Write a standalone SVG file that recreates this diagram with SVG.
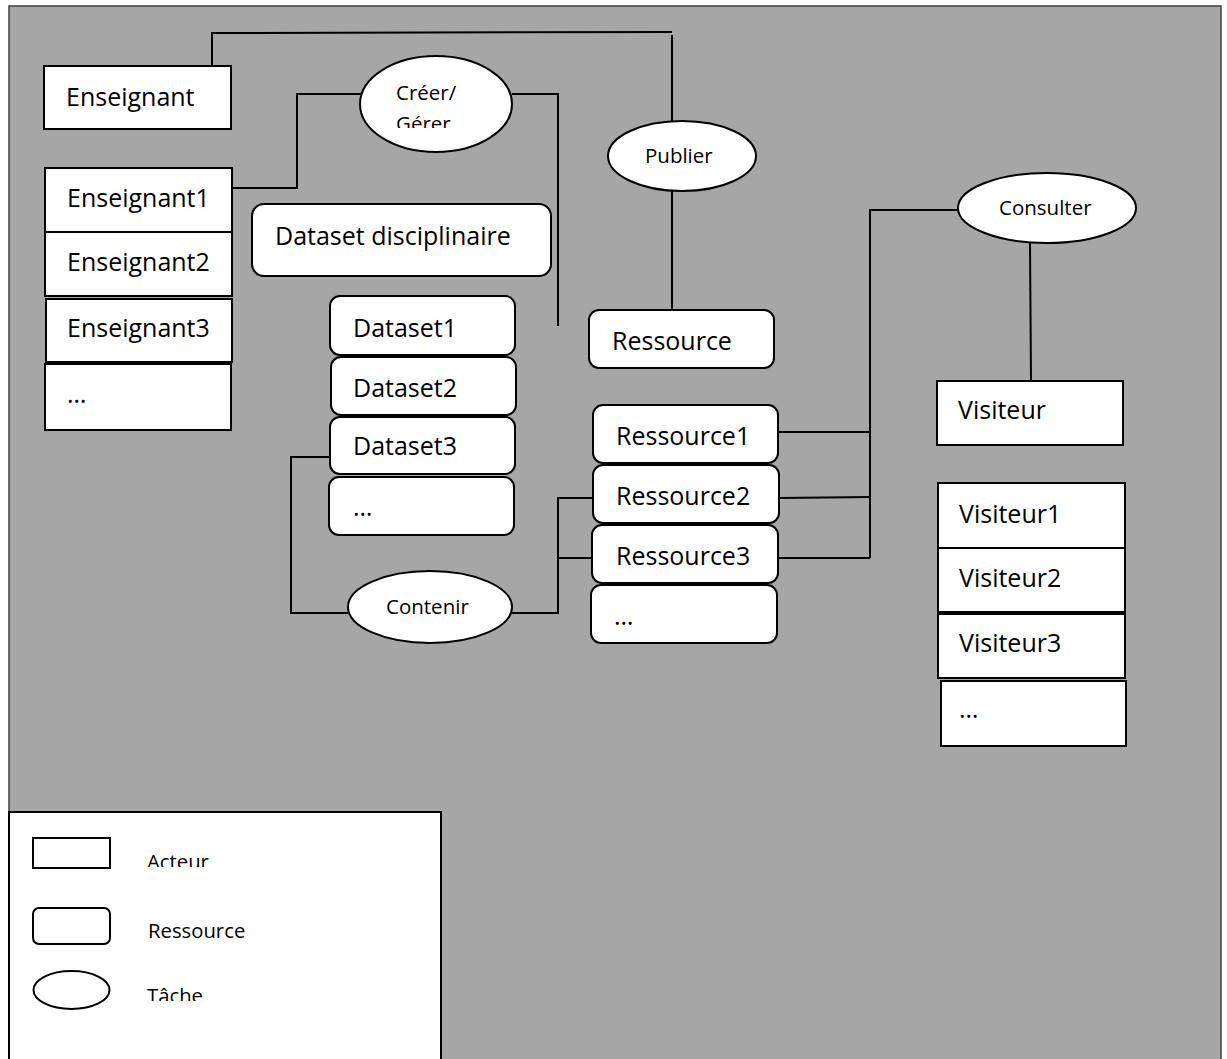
<svg xmlns="http://www.w3.org/2000/svg" width="1227" height="1059" viewBox="0 0 1227 1059">
<style>
.bg{fill:#a6a6a6;stroke:#404040;stroke-width:1.5}
.act{fill:#fff;stroke:#000;stroke-width:2}
.res{fill:#fff;stroke:#000;stroke-width:2}
.task{fill:#fff;stroke:#000;stroke-width:2}
.t{font-family:"Open Sans","Liberation Sans",sans-serif;font-size:25px;fill:#000}
.ts{font-family:"Open Sans","Liberation Sans",sans-serif;font-size:20.5px;fill:#000}
.tl{font-family:"Open Sans","Liberation Sans",sans-serif;font-size:20.3px;fill:#000}
.c{fill:none;stroke:#000;stroke-width:2}
</style>
<defs>
<clipPath id="cgerer"><rect x="380" y="60" width="130" height="68"/></clipPath>
<clipPath id="cacteur"><rect x="140" y="840" width="120" height="27"/></clipPath>
<clipPath id="ctache"><rect x="140" y="975" width="120" height="26"/></clipPath>
</defs>
<rect class="bg" x="9" y="6" width="1212" height="1060"/>

<g id="connectors">
<polyline class="c" points="212,66 212,33 672,32"/>
<line class="c" x1="672" y1="35" x2="672" y2="121"/>
<line class="c" x1="672" y1="191" x2="672" y2="310"/>
<polyline class="c" points="231,188 297,188 297,94 361,94"/>
<polyline class="c" points="512,94 558,94 558,326"/>
<polyline class="c" points="330,457 291,457 291,613 348,613"/>
<polyline class="c" points="512,613 558,613 558,498 593,498"/>
<line class="c" x1="558" y1="558" x2="592" y2="558"/>
<line class="c" x1="778" y1="432" x2="870" y2="432"/>
<line class="c" x1="779" y1="498" x2="870" y2="497"/>
<line class="c" x1="778" y1="558" x2="870" y2="558"/>
<polyline class="c" points="870,558 870,210 958,210"/>
<line class="c" x1="1030" y1="243" x2="1031" y2="381"/>
</g>

<g id="enseignant"><rect class="act" x="44" y="66" width="187" height="63"/><text class="t" x="66" y="106">Enseignant</text></g>
<g id="enseignant1"><rect class="act" x="45" y="168" width="187" height="64"/><text class="t" x="67" y="207">Enseignant1</text></g>
<g id="enseignant2"><rect class="act" x="45" y="232" width="187" height="64"/><text class="t" x="67" y="271">Enseignant2</text></g>
<g id="enseignant3"><rect class="act" x="46" y="299" width="186" height="63"/><text class="t" x="67" y="337">Enseignant3</text></g>
<g id="enseignant-more"><rect class="act" x="45" y="364" width="186" height="66"/><text class="t" x="67" y="403">…</text></g>

<g id="creer-gerer"><ellipse class="task" cx="436" cy="104" rx="76" ry="48"/>
<g clip-path="url(#cgerer)"><text class="ts" x="396" y="100">Créer/</text><text class="ts" x="396" y="131">Gérer</text></g></g>

<g id="publier"><ellipse class="task" cx="682" cy="156" rx="74" ry="35"/><text class="ts" x="645" y="163">Publier</text></g>

<g id="dataset-disciplinaire"><rect class="res" x="252" y="204" width="299" height="72" rx="12"/><text class="t" x="275" y="245">Dataset disciplinaire</text></g>
<g id="dataset1"><rect class="res" x="330" y="296" width="185" height="59" rx="10"/><text class="t" x="353" y="337">Dataset1</text></g>
<g id="dataset2"><rect class="res" x="331" y="357" width="185" height="58" rx="10"/><text class="t" x="353" y="397">Dataset2</text></g>
<g id="dataset3"><rect class="res" x="330" y="417" width="185" height="57" rx="10"/><text class="t" x="353" y="455">Dataset3</text></g>
<g id="dataset-more"><rect class="res" x="329" y="477" width="185" height="58" rx="10"/><text class="t" x="353" y="516">…</text></g>

<g id="contenir"><ellipse class="task" cx="430" cy="607" rx="82" ry="36"/><text class="ts" x="386" y="614">Contenir</text></g>

<g id="ressource"><rect class="res" x="589" y="310" width="185" height="58" rx="10"/><text class="t" x="612" y="350">Ressource</text></g>
<g id="ressource1"><rect class="res" x="593" y="405" width="185" height="58" rx="10"/><text class="t" x="616" y="445">Ressource1</text></g>
<g id="ressource2"><rect class="res" x="593" y="465" width="186" height="58" rx="10"/><text class="t" x="616" y="505">Ressource2</text></g>
<g id="ressource3"><rect class="res" x="592" y="525" width="186" height="58" rx="10"/><text class="t" x="616" y="565">Ressource3</text></g>
<g id="ressource-more"><rect class="res" x="591" y="585" width="186" height="58" rx="10"/><text class="t" x="614" y="625">…</text></g>

<g id="consulter"><ellipse class="task" cx="1047" cy="208" rx="89" ry="35"/><text class="ts" x="999" y="215">Consulter</text></g>

<g id="visiteur"><rect class="act" x="937" y="381" width="186" height="64"/><text class="t" x="958" y="419">Visiteur</text></g>
<g id="visiteur1"><rect class="act" x="938" y="483" width="187" height="65"/><text class="t" x="959" y="523">Visiteur1</text></g>
<g id="visiteur2"><rect class="act" x="938" y="548" width="187" height="64"/><text class="t" x="959" y="587">Visiteur2</text></g>
<g id="visiteur3"><rect class="act" x="938" y="614" width="187" height="64"/><text class="t" x="959" y="652">Visiteur3</text></g>
<g id="visiteur-more"><rect class="act" x="941" y="681" width="185" height="65"/><text class="t" x="959" y="718">…</text></g>

<g id="legend">
<rect x="9" y="812" width="432" height="260" fill="#fff" stroke="#000" stroke-width="2"/>
<rect class="act" x="33" y="838" width="77" height="30"/>
<g clip-path="url(#cacteur)"><text class="tl" x="147" y="869">Acteur</text></g>
<rect class="res" x="33" y="908" width="77" height="36" rx="6"/>
<text class="tl" x="148" y="938">Ressource</text>
<ellipse class="task" cx="71.5" cy="990" rx="38" ry="19"/>
<g clip-path="url(#ctache)"><text class="tl" x="147" y="1003">Tâche</text></g>
</g>
</svg>
